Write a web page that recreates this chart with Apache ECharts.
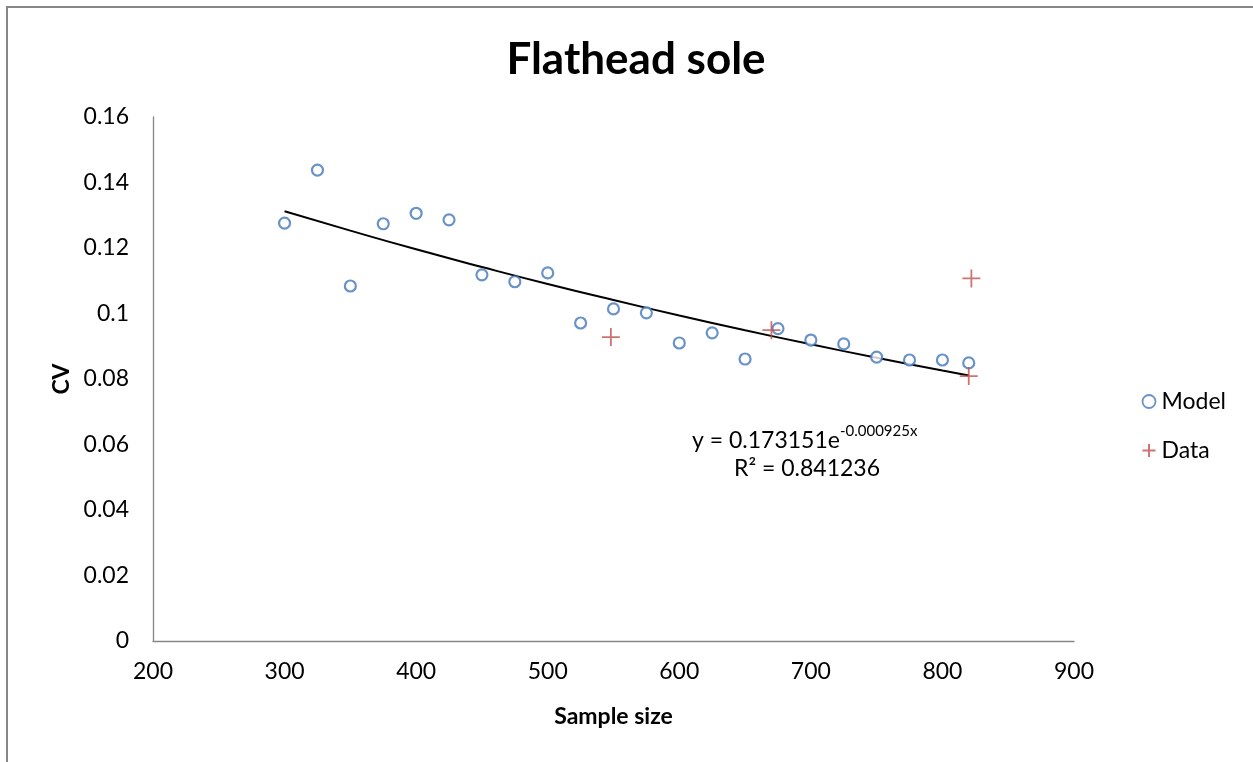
<!DOCTYPE html>
<html><head><meta charset="utf-8">
<script src="https://cdn.jsdelivr.net/npm/echarts@6/dist/echarts.min.js"></script>
<style>html,body{margin:0;padding:0;background:#fff}#c{width:1253px;height:762px}</style>
</head><body><div id="c"></div>
<script>
// Model series
const modelX = [300,325,350,375,400,425,450,475,500,525,550,575,600,625,650,675,700,725,750,775,800,820];
const modelY = [0.1276,0.1438,0.1084,0.1274,0.1306,0.1286,0.1118,0.1097,0.1124,0.0971,0.1014,0.1002,0.0910,0.0941,0.0861,0.0954,0.0919,0.0907,0.0867,0.0858,0.0858,0.0849];
// Data series
const dataX = [548,670,822,820];
const dataY = [0.0928,0.0949,0.1107,0.0809];
// Exponential trendline
const trendX = [300,350,400,450,500,550,600,650,700,750,800,820];
const trendY = [0.1312,0.1253,0.1196,0.1142,0.1090,0.1041,0.0994,0.0949,0.0906,0.0865,0.0826,0.0811];
const xTicks = [200,300,400,500,600,700,800,900];
const yTicks = [0,0.02,0.04,0.06,0.08,0.1,0.12,0.14,0.16];

const font = 'Lato, Carlito, Calibri, sans-serif';
const chart = echarts.init(document.getElementById('c'), null, {renderer:'canvas'});
chart.setOption({
  backgroundColor:'#fff',
  animation:false,
  title:{text:'Flathead sole', left:631, top:33, textAlign:'center',
    textStyle:{fontFamily:font, fontWeight:'bold', fontSize:44, color:'#000'}},
  grid:{left:153, right:179, top:117, bottom:121},
  legend:{orient:'vertical', left:1135, top:385, itemGap:26, itemWidth:15, itemHeight:13,
    textStyle:{fontFamily:font, fontSize:23, color:'#000', padding:[0,0,0,0]},
    data:[{name:'Model', icon:'circle', itemStyle:{borderWidth:1.8}},{name:'Data', icon:'path://M0,8 L16,8 M8,0 L8,16'}]},
  xAxis:{type:'value', min:200, max:900, interval:100,
    name:'Sample size', nameLocation:'middle', nameGap:64,
    nameTextStyle:{fontFamily:font, fontWeight:'bold', fontSize:23, color:'#000'},
    axisLine:{show:true, lineStyle:{color:'#868686', width:1.3}},
    axisTick:{show:false}, splitLine:{show:false},
    axisLabel:{fontFamily:font, fontSize:23, color:'#000', margin:19,
      formatter:v=>xTicks.includes(v)?String(v):''}},
  yAxis:{type:'value', min:0, max:0.16, interval:0.02,
    name:'CV', nameLocation:'middle', nameGap:80, nameRotate:90,
    nameTextStyle:{fontFamily:font, fontWeight:'bold', fontSize:23, color:'#000'},
    axisLine:{show:true, lineStyle:{color:'#868686', width:1.3}},
    axisTick:{show:false}, splitLine:{show:false},
    axisLabel:{fontFamily:font, fontSize:23, color:'#000', margin:24,
      formatter:v=>{const t=yTicks.find(k=>Math.abs(k-v)<1e-9);return t===undefined?'':String(t);}}},
  series:[
    {name:'Trend', type:'line', data:trendX.map((x,i)=>[x,trendY[i]]), smooth:true, symbol:'none',
      lineStyle:{color:'#000', width:2}, z:1, silent:true},
    {name:'Model', type:'scatter', data:modelX.map((x,i)=>[x,modelY[i]]), symbol:'circle', symbolSize:11,
      itemStyle:{color:'#fff', borderColor:'#4477bb', borderWidth:2.2}, z:3},
    {name:'Data', type:'scatter', data:dataX.map((x,i)=>[x,dataY[i]]),
      symbol:'path://M0,8 L16,8 M8,0 L8,16', symbolSize:18,
      itemStyle:{color:'none', borderColor:'#c0504d', borderWidth:1.8}, z:4}
  ],
  graphic:[
    {type:'rect', shape:{x:7, y:7, width:1260, height:770}, style:{fill:'none', stroke:'#868686', lineWidth:2}, silent:true},
    {type:'text', left:692, top:424, style:{
      text:'{a|y = 0.173151e}{b|-0.000925x}', 
      rich:{a:{fontFamily:font, fontSize:23, color:'#000', verticalAlign:'bottom', lineHeight:28},
            b:{fontFamily:font, fontSize:15, color:'#000', verticalAlign:'top', lineHeight:28, padding:[0,0,4,0]}}}},
    {type:'text', left:734, top:457, style:{
      text:'{a|R² = 0.841236}',
      rich:{a:{fontFamily:font, fontSize:23, color:'#000', lineHeight:28}}}}
  ]
});
</script></body></html>
